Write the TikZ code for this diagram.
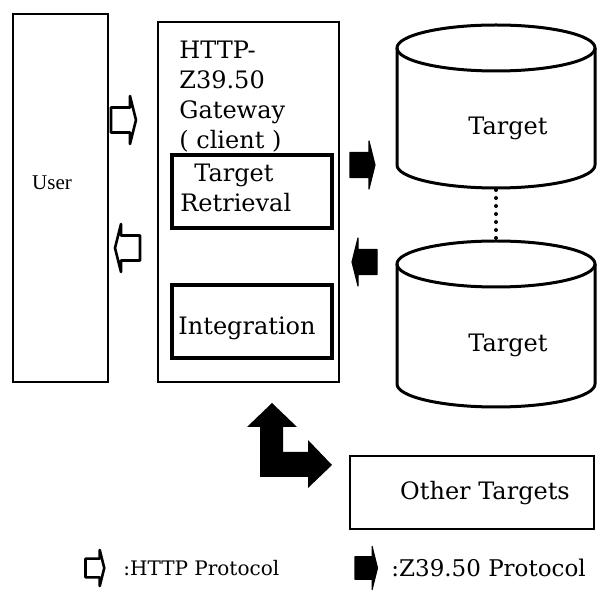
\documentclass[tikz,border=0pt]{standalone}
\usepackage{fontspec}
\setmainfont{DejaVu Serif}
\newfontfamily\userfont{Liberation Serif}
\usetikzlibrary{positioning}
\tikzset{
 box/.style={draw,line width=1pt},
 innerbox/.style={draw,line width=1.8pt},
 lbl/.style={font=\fontsize{12}{15}\selectfont,inner sep=0pt},
 httparrow/.style={draw,line width=1.3pt,fill=white,line join=round},
 zarrow/.style={draw,line width=0.6pt,fill=black,line join=round},
 pics/protoarrow/.style={code={
  \draw[#1] (-10,-12.5) -- (9,-12.5) -- (9,-24) -- (15,0) -- (9,24) -- (9,12.5) -- (-10,12.5) -- cycle;}},
 pics/targetdb/.style={code={
  \draw[line width=1.5pt] (-99,0) -- (-99,#1) arc[start angle=180,end angle=0,x radius=99,y radius=23] -- (99,0);
  \draw[line width=1.5pt] (0,0) ellipse[x radius=99,y radius=23];}}
}
\begin{document}
\begin{tikzpicture}[x=0.5pt,y=-0.5pt]
 \useasboundingbox (0,0) rectangle (600,598);
 % user and gateway
 \node[box,minimum width=47.5pt,minimum height=184pt] (user) at (60.5,198) {};
 \node[font=\userfont\fontsize{10.5}{12}\selectfont,inner sep=0pt] (userlbl) at (52,183) {User};
 \node[box,minimum width=90.5pt,minimum height=180pt] (gw) at (248.5,202) {};
 \node[lbl,align=left,anchor=north west] (gwlbl) at (179,41) {HTTP-\\Z39.50\\Gateway\\( client )};
 \node[innerbox,minimum width=80pt,minimum height=36.5pt] (retr) at (252,191.5) {};
 \node[lbl,align=left,anchor=west] (retrlbl) at (180,188) {\hspace{7pt}Target\\Retrieval};
 \node[innerbox,minimum width=80pt,minimum height=36.5pt] (integ) at (252,321.5) {};
 \node[lbl] (integlbl) at (247,328) {Integration};
 % targets
 \pic at (496,48) {targetdb=117};
 \pic at (496,264) {targetdb=120};
 \node[lbl] (tgta) at (508,128) {Target};
 \node[lbl] (tgtb) at (508,345) {Target};
 \coordinate (tgtabot) at (496,190);
 \coordinate (tgtbtop) at (496,240);
 \draw[line width=2pt,line cap=round,dash pattern=on 0pt off 4pt] (tgtabot) -- (tgtbtop);
 \node[box,minimum width=122pt,minimum height=36.5pt] (other) at (472,492.5) {};
 \node[lbl] (otherlbl) at (485,493) {Other Targets};
 % protocol arrows
 \pic at (121,120) {protoarrow=httparrow};
 \pic[rotate=180] at (130,248) {protoarrow=httparrow};
 \pic at (360,165) {protoarrow=zarrow};
 \pic[rotate=180] at (367,262) {protoarrow=zarrow};
 \fill (272,403) -- (297,427) -- (283,427) -- (283,452) -- (308,452) -- (308,440) -- (332,465)
  -- (308,488) -- (308,477) -- (260,477) -- (260,427) -- (247,427) -- cycle;
 % legend
 \pic[scale=0.75] at (93,568) {protoarrow=httparrow};
 \node[font=\fontsize{10}{12}\selectfont,inner sep=0pt,anchor=west] (httpleg) at (123,568) {:HTTP Protocol};
 \pic[scale=0.9] at (364,568) {protoarrow=zarrow};
 \node[font=\fontsize{11.5}{14}\selectfont,inner sep=0pt,anchor=west] (zleg) at (391,568) {:Z39.50 Protocol};
\end{tikzpicture}
\end{document}
